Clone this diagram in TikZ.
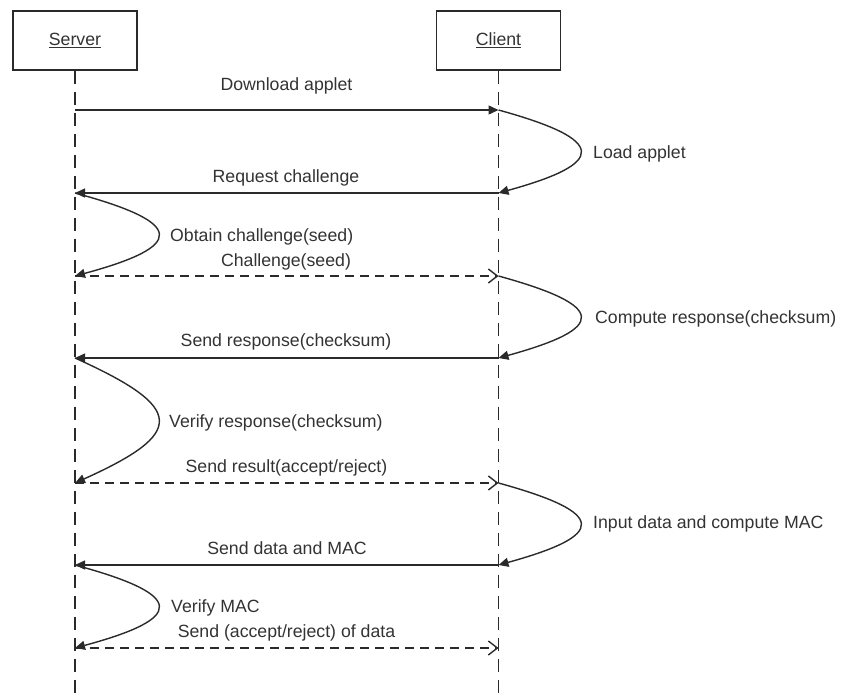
\documentclass[tikz,border=0pt]{standalone}
\usepackage{fontspec}
\setmainfont{Liberation Sans}
\usetikzlibrary{arrows.meta}
\definecolor{ink}{HTML}{2A2A2A}
\definecolor{txt}{HTML}{333333}

\begin{document}
\begin{tikzpicture}[x=1pt,y=-1pt,
  every node/.style={font=\fontsize{17.7}{20}\selectfont, text=txt, inner sep=0pt},
  actor/.style={draw=ink, line width=1.4pt, minimum width=124pt, minimum height=59pt, fill=white},
  lifeline/.style={draw=ink, line width=1.4pt, dash pattern=on 13pt off 8pt},
  call/.style={draw=ink, line width=1.4pt, -{Triangle[length=10pt,width=9pt]}},
  reply/.style={draw=ink, line width=1.4pt, dash pattern=on 9pt off 6pt, -{Straight Barb[length=9pt,width=14pt]}},
  selfcall/.style={draw=ink, line width=1.4pt, -{Triangle[length=10pt,width=9pt]}},
  msg/.style={anchor=base},
  note/.style={anchor=base west},
]
\useasboundingbox (0,0) rectangle (844,693);

% participants
\node[actor] (server) at (75,40.5) {\underline{Server}};
\node[actor] (client) at (498.5,40.5) {\underline{Client}};

% lifelines
\coordinate (s-end) at (75,693);
\coordinate (c-end) at (498.5,693);
\draw[lifeline] (server.south) -- (s-end);
\draw[lifeline] (client.south) -- (c-end);

% message anchor points on both lifelines
\foreach \i/\y in {1/110,2/193,3/276,4/358,5/483,6/565,7/648} {
  \coordinate (s\i) at (75,\y);
  \coordinate (c\i) at (498.5,\y);
}

% messages and activations
\draw[call] (s1) -- (c1);
\draw[selfcall] (c1) .. controls +(109,30) and +(109,-30) .. (c2);
\draw[call] (c2) -- (s2);
\draw[selfcall] (s2) .. controls +(111,30) and +(111,-30) .. (s3);
\draw[reply] (s3) -- (c3);
\draw[selfcall] (c3) .. controls +(109,30) and +(109,-30) .. (c4);
\draw[call] (c4) -- (s4);
\draw[selfcall] (s4) .. controls +(111,50) and +(111,-50) .. (s5);
\draw[reply] (s5) -- (c5);
\draw[selfcall] (c5) .. controls +(109,30) and +(109,-30) .. (c6);
\draw[call] (c6) -- (s6);
\draw[selfcall] (s6) .. controls +(111,30) and +(111,-30) .. (s7);
\draw[reply] (s7) -- (c7);

% labels
\node[msg]  (l1)  at (286.5,91)  {Download applet};
\node[note] (l2)  at (593,158)   {Load applet};
\node[msg]  (l3)  at (286,182)   {Request challenge};
\node[note] (l4)  at (170,241)   {Obtain challenge(seed)};
\node[msg]  (l5)  at (286,266)   {Challenge(seed)};
\node[note] (l6)  at (595,323)   {Compute response(checksum)};
\node[msg]  (l7)  at (286,346)   {Send response(checksum)};
\node[note] (l8)  at (169,427)   {Verify response(checksum)};
\node[msg]  (l9)  at (286.5,472) {Send result(accept/reject)};
\node[note] (l10) at (593,528)   {Input data and compute MAC};
\node[msg]  (l11) at (287,554)   {Send data and MAC};
\node[note] (l12) at (171,612)   {Verify MAC};
\node[msg]  (l13) at (286.5,637) {Send (accept/reject) of data};
\end{tikzpicture}
\end{document}
